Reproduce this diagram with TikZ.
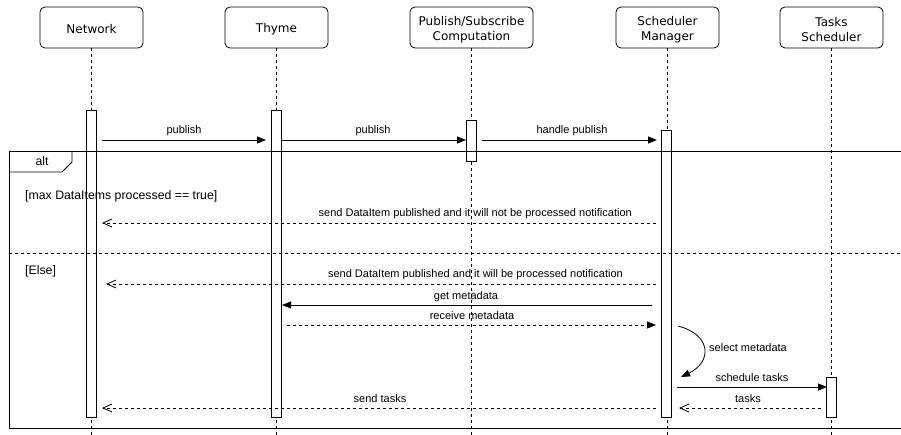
\documentclass[tikz,border=0pt]{standalone}
\usepackage{fontspec}
\setmainfont{Liberation Sans}
\newfontfamily\headfont{DejaVu Sans}
\usetikzlibrary{arrows.meta}
\begin{document}
\begin{tikzpicture}[x=1pt,y=-1pt,
  actor/.style={draw, rounded corners=5pt, minimum width=103pt, minimum height=41pt,
    inner sep=0pt, line width=0.8pt},
  actortext/.style={align=center, inner sep=0pt,
    font=\headfont\fontsize{12}{14.5}\selectfont},
  lifeline/.style={line width=0.8pt, dash pattern=on 3pt off 3pt},
  bar/.style={draw, fill=white, minimum width=10pt, inner sep=0pt, line width=0.8pt},
  call/.style={line width=0.8pt, -{Triangle[length=9pt,width=7pt]}},
  reply/.style={line width=0.8pt, dash pattern=on 3pt off 3pt, -{Triangle[length=9pt,width=7pt]}},
  ret/.style={line width=0.8pt, dash pattern=on 3pt off 3pt, -{Straight Barb[length=9pt,width=8pt]}},
  lbl/.style={font=\fontsize{11}{13}\selectfont, inner sep=0pt, anchor=base},
  guard/.style={font=\fontsize{12.3}{14}\selectfont, inner sep=0pt, anchor=base west},
  frameline/.style={line width=0.9pt},
]
\useasboundingbox (0,0) rectangle (901,435);
\coordinate (bottom) at (0,435);

% participants
\node[actor] (net)    at (91.5,27.5)  {};
\node[actor] (thyme)  at (276.5,27.5) {};
\node[actor, minimum width=123pt] (pubsub) at (471.5,27.5) {};
\node[actor] (smgr)   at (667.5,27.5) {};
\node[actor] (tsch)   at (831.5,27.5) {};
\node[actortext] (nett)    at ([yshift=-2pt]net.center)    {Network};
\node[actortext] (thymet)  at ([yshift=-2pt]thyme.center)  {Thyme};
\node[actortext] (pubsubt) at ([yshift=-2pt]pubsub.center) {Publish/Subscribe\\Computation};
\node[actortext] (smgrt)   at ([yshift=-2pt]smgr.center)   {Scheduler\\Manager};
\node[actortext] (tscht)   at ([yshift=-2pt]tsch.center)   {Tasks\\Scheduler};

% lifelines
\foreach \p in {net,thyme,pubsub,smgr,tsch}
  \draw[lifeline] (\p.south) -- (\p.south |- bottom);

% activation bars
\node[bar, minimum height=307pt] (netact)   at (91.5,263.5)  {};
\node[bar, minimum height=307pt] (thymeact) at (276.5,263.5) {};
\node[bar, minimum height=41pt]  (psact)    at (471.5,140.5) {};
\node[bar, minimum height=287pt] (smact)    at (666.5,273.5) {};
\node[bar, minimum height=40pt]  (tsact)    at (831.5,397)   {};

% alt combined fragment
\draw[frameline] (901,151) -- (9,151) -- (9,428) -- (901,428);
\draw[frameline] (9,172) -- (62,172) -- (72,162) -- (72,151);
\draw[lifeline] (9,253) -- (901,253);
\node[guard, anchor=base] (alt) at (42,166) {alt};
\node[guard] (g1) at (25,200) {[max DataItems processed == true]};
\node[guard] (g2) at (25,275) {[Else]};

% message end points
\coordinate (a1) at (102,140);  \coordinate (b1) at (266,140);
\coordinate (a2) at (282,140);  \coordinate (b2) at (466,140);
\coordinate (a3) at (482,140);  \coordinate (b3) at (657,140);
\coordinate (a4) at (656,223);  \coordinate (b4) at (102,223);
\coordinate (a5) at (656,284);  \coordinate (b5) at (106,284);
\coordinate (a6) at (652,305);  \coordinate (b6) at (282,305);
\coordinate (a7) at (287,325);  \coordinate (b7) at (656,325);
\coordinate (a8) at (678,326);  \coordinate (b8) at (681,377);
\coordinate (a9) at (677,387);  \coordinate (b9) at (827,387);
\coordinate (a10) at (821,408); \coordinate (b10) at (679,408);
\coordinate (a11) at (656,408); \coordinate (b11) at (102,408);

% messages
\draw[call] (a1) -- (b1);
\node[lbl] (l1) at (184,134) {publish};
\draw[call] (a2) -- (b2);
\node[lbl] (l2) at (373,134) {publish};
\draw[call] (a3) -- (b3);
\node[lbl] (l3) at (572,134) {handle publish};

\draw[ret] (a4) -- (b4);
\node[lbl, anchor=base east] (l4) at (632,217) {send DataItem published and it will not be processed notification};

\draw[ret] (a5) -- (b5);
\node[lbl, anchor=base east] (l5) at (623,278) {send DataItem published and it will be processed notification};

\draw[call] (a6) -- (b6);
\node[lbl] (l6) at (466,299) {get metadata};
\draw[reply] (a7) -- (b7);
\node[lbl] (l7) at (472,319) {receive metadata};

\draw[call] (a8) .. controls (712,335) and (712,362) .. (b8);
\node[lbl, anchor=base west] (l8) at (709,351) {select metadata};

\draw[call] (a9) -- (b9);
\node[lbl] (l9) at (752,381) {schedule tasks};
\draw[ret] (a10) -- (b10);
\node[lbl] (l10) at (748,402) {tasks};
\draw[ret] (a11) -- (b11);
\node[lbl] (l11) at (380,402) {send tasks};
\end{tikzpicture}
\end{document}
